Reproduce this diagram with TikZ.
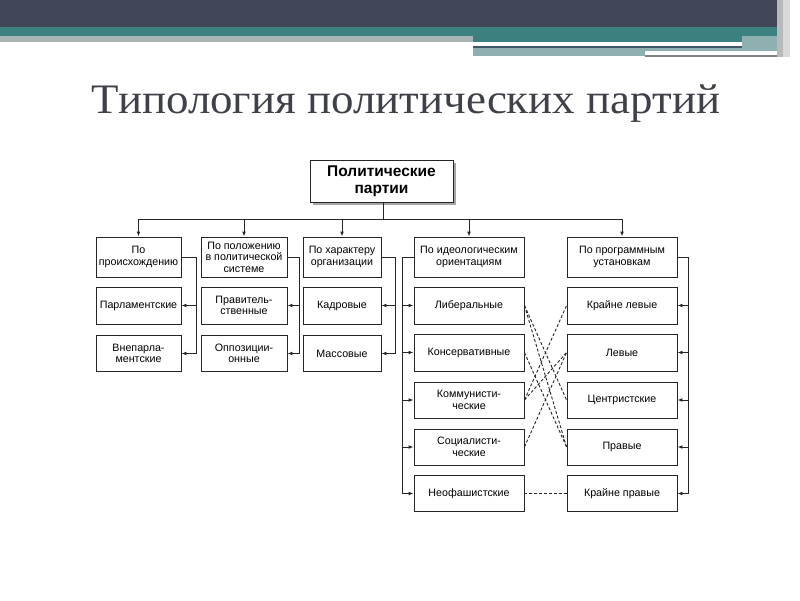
\documentclass[tikz,border=0pt]{standalone}
\usepackage{fontspec}
\setmainfont{Liberation Serif}
\setsansfont{Liberation Sans}
\usetikzlibrary{calc,arrows.meta,shadows}
\usepackage{xcolor}

\definecolor{bandnavy}{HTML}{414656}
\definecolor{bandteal}{HTML}{3D8080}
\definecolor{bandgray}{HTML}{A9B5B5}
\definecolor{bandpale}{HTML}{8FB0B0}
\definecolor{titlegray}{HTML}{3F4149}
\definecolor{boxline}{HTML}{262626}

\tikzset{
  box/.style={draw=boxline, line width=0.9pt, fill=white, align=center, inner sep=1pt,
    font=\sffamily\fontsize{10.7}{11.5}\selectfont},
  link/.style={line width=0.9pt, draw=boxline},
  arr/.style={link, -{Latex[length=5pt,width=3.8pt]}},
  dashlink/.style={link, dash pattern=on 3pt off 2pt}
}

\begin{document}
\begin{tikzpicture}[x=1pt,y=-1pt]
\useasboundingbox (0,0) rectangle (800,600);

% header bands
\fill [bandnavy] (0,0) rectangle (777,26.5);
\fill [bandteal] (0,26.5) rectangle (777,36);
\fill [bandgray] (0,36) rectangle (473,42);
\fill [bandteal] (473,36) rectangle (742,42);
\fill [bandpale] (742,36) rectangle (777,51);
\fill [white] (473,42) rectangle (742,46);
\fill [bandnavy!70!bandteal] (473,46) rectangle (742,48);
\fill [bandpale] (473,48) rectangle (742,51);
\fill [bandpale] (473,51) rectangle (645,56);
\fill [white] (645,51) rectangle (777,55);
\fill [gray] (645,55) rectangle (777,57);
\fill [gray!55] (777,0) rectangle (783,57);
\fill [gray!30] (783,0) rectangle (790,57);

\node [titlegray, anchor=base, font=\fontsize{42}{46}\selectfont, xscale=1.07] (title) at (406,113) {Типология политических партий};

% root
\node [box, minimum width=143pt, minimum height=42pt, font=\sffamily\bfseries\fontsize{15.5}{17}\selectfont,
  drop shadow={shadow xshift=3pt, shadow yshift=-3pt, fill=black!35, opacity=1}] (root) at (381.5,181) {Политические\\партии};

% criteria
\node [box, minimum width=85pt, minimum height=40pt] (orig) at (138.5,257) {По\\происхождению};
\node [box, minimum width=86pt, minimum height=40pt] (place) at (244,257) {По положению\\в политической\\системе};
\node [box, minimum width=78pt, minimum height=40pt] (kind) at (342,257) {По характеру\\организации};
\node [box, minimum width=110pt, minimum height=40pt] (ideo) at (469,257) {По идеологическим\\ориентациям};
\node [box, minimum width=110pt, minimum height=40pt] (prog) at (622,257) {По программным\\установкам};

\node [box, minimum width=85pt, minimum height=37pt] (parl) at (138.5,305.5) {Парламентские};
\node [box, minimum width=85pt, minimum height=36pt] (vnep) at (138.5,353.5) {Внепарла-\\ментские};
\node [box, minimum width=86pt, minimum height=37pt] (gov) at (244,305.5) {Правитель-\\ственные};
\node [box, minimum width=86pt, minimum height=36pt] (opp) at (244,353.5) {Оппозиции-\\онные};
\node [box, minimum width=78pt, minimum height=37pt] (kadr) at (342,305.5) {Кадровые};
\node [box, minimum width=78pt, minimum height=36pt] (mass) at (342,353.5) {Массовые};

\node [box, minimum width=110pt, minimum height=37pt] (lib) at (469,305.5) {Либеральные};
\node [box, minimum width=110pt, minimum height=37pt] (kons) at (469,352.5) {Консервативные};
\node [box, minimum width=110pt, minimum height=36pt] (komm) at (469,400) {Коммунисти-\\ческие};
\node [box, minimum width=110pt, minimum height=36pt] (soc) at (469,447) {Социалисти-\\ческие};
\node [box, minimum width=110pt, minimum height=36pt] (neo) at (469,493.5) {Неофашистские};

\node [box, minimum width=110pt, minimum height=37pt] (kl) at (622,305.5) {Крайне левые};
\node [box, minimum width=110pt, minimum height=37pt] (lev) at (622,352.5) {Левые};
\node [box, minimum width=110pt, minimum height=36pt] (centr) at (622,400) {Центристские};
\node [box, minimum width=110pt, minimum height=36pt] (prav) at (622,447) {Правые};
\node [box, minimum width=110pt, minimum height=36pt] (kp) at (622,493.5) {Крайне правые};

% tree
\coordinate (hub) at ($(root.south)+(1.5,17)$);
\draw [link] ($(root.south)+(1.5,0)$) -- (hub);
\draw [link] (orig.north |- hub) -- (prog.north |- hub);
\foreach \n in {orig,place,kind,ideo,prog}
  \draw [arr] (\n.north |- hub) -- (\n.north);

% brackets
\foreach \a/\b/\c/\dx in {orig/parl/vnep/15, place/gov/opp/12, kind/kadr/mass/14}{
  \coordinate (br) at ($(\a.east)+(\dx,0)$);
  \draw [link] (\a.east) -- (br) -- (br |- \c.east);
  \draw [arr] (br |- \b.east) -- (\b.east);
  \draw [arr] (br |- \c.east) -- (\c.east);
}
\coordinate (bl) at ($(ideo.west)+(-11,0)$);
\draw [link] (ideo.west) -- (bl) -- (bl |- neo.west);
\foreach \n in {lib,kons,komm,soc,neo}
  \draw [arr] (bl |- \n.west) -- (\n.west);
\coordinate (brr) at ($(prog.east)+(11,0)$);
\draw [link] (prog.east) -- (brr) -- (brr |- kp.east);
\foreach \n in {kl,lev,centr,prav,kp}
  \draw [arr] (brr |- \n.east) -- (\n.east);

% ideology vs programme
\draw [dashlink] (lib.east) -- (centr.west);
\draw [dashlink] (lib.east) -- (prav.west);
\draw [dashlink] (kons.east) -- (prav.west);
\draw [dashlink] (komm.east) -- (kl.west);
\draw [dashlink] (komm.east) -- (lev.west);
\draw [dashlink] (soc.east) -- (lev.west);
\draw [dashlink] (neo.east) -- (kp.west);
\end{tikzpicture}
\end{document}
